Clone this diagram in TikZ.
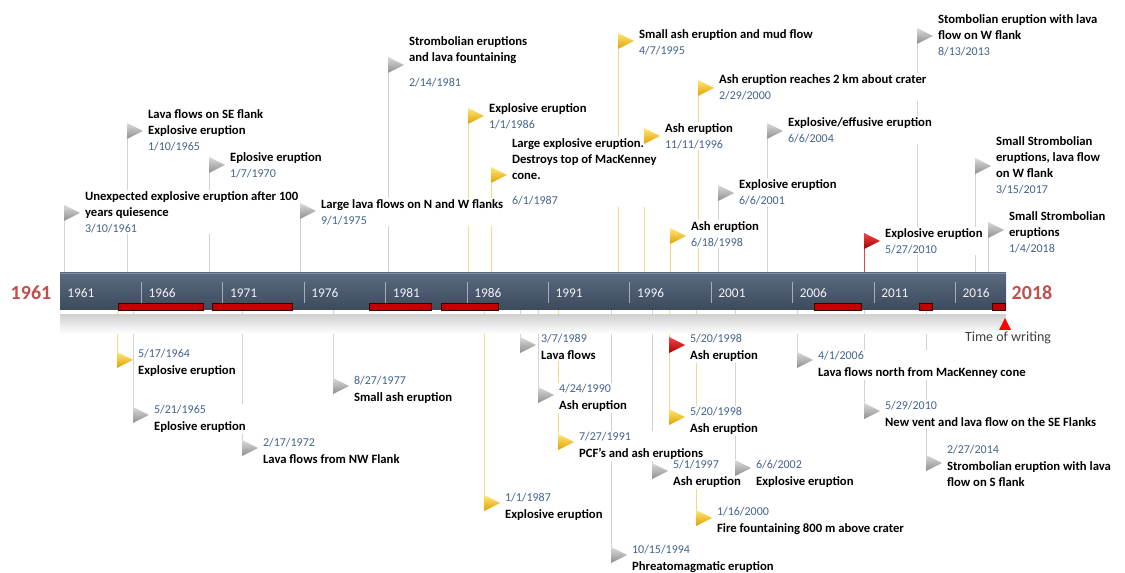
\documentclass[tikz,border=0pt]{standalone}
\usepackage{fontspec}
\setmainfont{Carlito}
\usetikzlibrary{positioning}

\definecolor{barTop}{HTML}{5A6A80}
\definecolor{barBot}{HTML}{3C4A5C}
\definecolor{datecol}{HTML}{44648C}
\definecolor{yearred}{HTML}{C0504D}
\definecolor{eruptred}{HTML}{C00000}
\definecolor{ftgray}{HTML}{DADADA}
\definecolor{fbgray}{HTML}{8E8E8E}
\definecolor{plgray}{HTML}{D2D2D2}
\definecolor{ftgold}{HTML}{FFE878}
\definecolor{fbgold}{HTML}{E0A000}
\definecolor{plgold}{HTML}{F6D88A}
\definecolor{ftred}{HTML}{F04848}
\definecolor{fbred}{HTML}{A80000}
\definecolor{plred}{HTML}{E04848}

\pgfdeclarelayer{poles}
\pgfdeclarelayer{flags}
\pgfsetlayers{poles,main,flags}

\newcommand{\datefont}{\mdseries\color{datecol}\fontsize{9}{12}\selectfont}

\begin{document}
\begin{tikzpicture}[
  x=0.75pt, y=-0.75pt,
  evtext/.style={anchor=north west, align=left, inner sep=1pt, fill=white,
    font=\bfseries\fontsize{9.5}{12}\selectfont},
  yearlbl/.style={anchor=west, inner sep=0pt, text=white!92!barTop, font=\fontsize{10}{12}\selectfont},
  bigyear/.style={text=yearred, font=\bfseries\fontsize{15}{18}\selectfont},
  flagpole/.style={line width=0.6pt},
  yeartick/.style={draw=white!45!barTop, line width=0.5pt},
  period/.style={fill=eruptred, draw=black!70!eruptred, line width=0.4pt}
]
  \useasboundingbox (0,0) rectangle (1125,573);

  % time axis
  \shade[top color=barTop, bottom color=barBot] (60,273) rectangle (1006,310);
  \draw[white!25!barTop, line width=0.6pt] (60,273.5) -- (1006,273.5);
  \shade[top color=gray!35, bottom color=white] (60,315) rectangle (1006,334);
  \foreach \k in {0,...,11} {
    \pgfmathtruncatemacro\yr{1961+5*\k}
    \node[yearlbl] (yr\k) at (67+81.4*\k,293) {\yr};
    \ifnum\k>0 \draw[yeartick] (60+81.4*\k,282) -- ++(0,21); \fi
  }
  \foreach \a/\b in {118/203, 212/292, 369/431, 441/498, 814/861, 919/932, 992/1005}
    \draw[period] (\a,303) rectangle (\b,310);

  \node[bigyear] (start) at (31,293) {1961};
  \node[bigyear] (end) at (1032,293) {2018};

  \coordinate (now) at (1005,318);
  \fill[red] (now) -- ++(6,12) -- ++(-12,0) -- cycle;
  \node[anchor=north, text=black!75, inner sep=0pt, font=\fontsize{10.5}{12}\selectfont] (tow) at (1008,332) {Time of writing};

  % events above the axis
  \foreach \x/\fy/\c/\ty/\gp/\ttl/\dt [count=\i] in {
    64/205/gray/190/0/{Unexpected explosive eruption after 100\\years quiesence}/{3/10/1961},
    127/123/gray/108/0/{Lava flows on SE flank\\Explosive eruption}/{1/10/1965},
    209/157/gray/151/0/{Eplosive eruption}/{1/7/1970},
    300/203/gray/198/0/{Large lava flows on N and W flanks}/{9/1/1975},
    388/57/gray/35/7/{Strombolian eruptions\\and lava fountaining}/{2/14/1981},
    468/108/gold/102/0/{Explosive eruption}/{1/1/1986},
    491/167/gold/137/7/{Large explosive eruption.\\Destroys top of MacKenney\\cone.}/{6/1/1987},
    618/33/gold/28/0/{Small ash eruption and mud flow}/{4/7/1995},
    644/128/gold/122/0/{Ash eruption}/{11/11/1996},
    698/80/gold/73/0/{Ash eruption reaches 2 km about crater}/{2/29/2000},
    670/228/gold/220/0/{Ash eruption}/{6/18/1998},
    718/185/gray/178/0/{Explosive eruption}/{6/6/2001},
    767/123/gray/116/0/{Explosive/effusive eruption}/{6/6/2004},
    917/28/gray/13/0/{Stombolian eruption with lava\\flow on W flank}/{8/13/2013},
    864/233/red/227/0/{Explosive eruption}/{5/27/2010},
    975/158/gray/135/0/{Small Strombolian\\eruptions, lava flow\\on W flank}/{3/15/2017},
    988/222/gray/210/0/{Small Strombolian\\eruptions}/{1/4/2018}} {
    \coordinate (fu\i) at (\x,\fy);
    \coordinate (bu\i) at (\x,273);
    \begin{pgfonlayer}{poles}
      \draw[flagpole, draw=pl\c] (fu\i) -- (bu\i);
    \end{pgfonlayer}
    \node[evtext] (tu\i) at (\x+19.5,\ty) {\ttl\\[\gp pt]{\datefont\dt}};
    \begin{pgfonlayer}{flags}
      \shade[top color=ft\c, bottom color=fb\c] (fu\i) -- ++(16,8) -- ++(-16,8) -- cycle;
    \end{pgfonlayer}
  }

  % events below the axis
  \foreach \x/\fy/\c/\ty/\ttl/\dt [count=\i] in {
    117/352/gold/348/{Explosive eruption}/{5/17/1964},
    133/407/gray/404/{Eplosive eruption}/{5/21/1965},
    242/440/gray/437/{Lava flows from NW Flank}/{2/17/1972},
    333/378/gray/375/{Small ash eruption}/{8/27/1977},
    520/337/gray/333/{Lava flows}/{3/7/1989},
    669/337/red/333/{Ash eruption}/{5/20/1998},
    538/387/gray/383/{Ash eruption}/{4/24/1990},
    558/434/gold/431/{PCF's and ash eruptions}/{7/27/1991},
    484/495/gold/492/{Explosive eruption}/{1/1/1987},
    611/547/gray/544/{Phreatomagmatic eruption}/{10/15/1994},
    669/409/gold/406/{Ash eruption}/{5/20/1998},
    652/463/gray/459/{Ash eruption}/{5/1/1997},
    696/510/gold/506/{Fire fountaining 800 m above crater}/{1/16/2000},
    735/460/gray/459/{Explosive eruption}/{6/6/2002},
    797/352/gray/350/{Lava flows north from MacKenney cone}/{4/1/2006},
    864/403/gray/400/{New vent and lava flow on the SE Flanks}/{5/29/2010},
    926/455/gray/444/{Strombolian eruption with lava\\flow on S flank}/{2/27/2014}} {
    \coordinate (fd\i) at (\x,\fy+16);
    \coordinate (bd\i) at (\x,310);
    \begin{pgfonlayer}{poles}
      \draw[flagpole, draw=pl\c] (bd\i) -- (fd\i);
    \end{pgfonlayer}
    \node[evtext] (td\i) at (\x+19.5,\ty) {{\datefont\dt}\\[0.8pt]\ttl};
    \begin{pgfonlayer}{flags}
      \shade[top color=ft\c, bottom color=fb\c] (fd\i) -- ++(0,-16) -- ++(16,8) -- cycle;
    \end{pgfonlayer}
  }
\end{tikzpicture}
\end{document}
